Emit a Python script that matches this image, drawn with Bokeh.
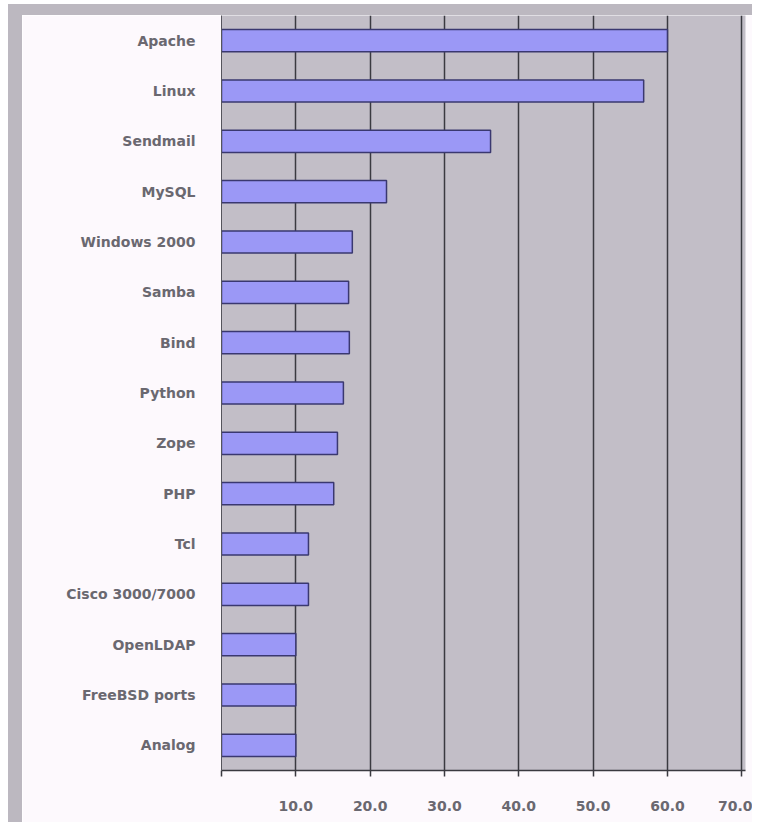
from bokeh.plotting import figure
from bokeh.models import Div, FixedTicker, NumeralTickFormatter
from bokeh.layouts import column, row
from bokeh.embed import file_html
from bokeh.resources import INLINE

# data (top to bottom as shown)
projects = ["Apache", "Linux", "Sendmail", "MySQL", "Windows 2000", "Samba", "Bind",
            "Python", "Zope", "PHP", "Tcl", "Cisco 3000/7000", "OpenLDAP",
            "FreeBSD ports", "Analog"]
scores = [60.0, 56.8, 36.2, 22.2, 17.6, 17.1, 17.2, 16.4, 15.6, 15.1, 11.7, 11.7,
          10.0, 10.0, 10.0]
x_ticks = [0, 10, 20, 30, 40, 50, 60, 70]

factors = list(reversed(projects))

p = figure(y_range=factors, x_range=(0, 70.5), width=730, height=807,
           output_backend="svg", toolbar_location=None,
           min_border_left=199, min_border_right=7, min_border_top=0,
           min_border_bottom=52)
p.background_fill_color = "#c2bec7"
p.border_fill_color = "#fdf9fd"
p.outline_line_color = None

p.hbar(y=projects, right=scores, left=0, height=0.44,
       fill_color="#9b98f6", line_color="#3a3870", line_width=1.5)

p.xaxis.ticker = FixedTicker(ticks=x_ticks)
p.xaxis.formatter = NumeralTickFormatter(format="0.0")
p.xaxis.major_label_overrides = {0: ""}
p.xaxis.axis_line_color = "#3a3a40"
p.xaxis.axis_line_width = 1.5
p.xaxis.major_tick_line_color = "#3a3a40"
p.xaxis.major_tick_line_width = 1.5
p.xaxis.major_tick_out = 6
p.xaxis.major_tick_in = 0
p.xaxis.minor_tick_line_color = None
p.xaxis.major_label_standoff = 24
p.xaxis.major_label_text_font = "DejaVu Sans"
p.xaxis.major_label_text_font_style = "bold"
p.xaxis.major_label_text_font_size = "14px"
p.xaxis.major_label_text_color = "#6a6870"

p.yaxis.axis_line_color = "#55545c"
p.yaxis.axis_line_width = 1
p.yaxis.major_tick_line_color = None
p.yaxis.major_label_standoff = 20
p.yaxis.major_label_text_font = "DejaVu Sans"
p.yaxis.major_label_text_font_style = "bold"
p.yaxis.major_label_text_font_size = "14px"
p.yaxis.major_label_text_color = "#6a6870"

p.xgrid.grid_line_color = "#3a3a40"
p.xgrid.grid_line_width = 1.5
p.ygrid.grid_line_color = None

top_strip = Div(width=744, height=11, margin=(4, 0, 0, 8),
                styles={"background-color": "#bcb8c0"})
left_strip = Div(width=14, height=807, margin=(0, 0, 0, 8),
                 styles={"background-color": "#bcb8c0"})
layout = column(top_strip, row(left_strip, p, spacing=0), spacing=0)

open("out.html", "w").write(file_html(layout, INLINE))
